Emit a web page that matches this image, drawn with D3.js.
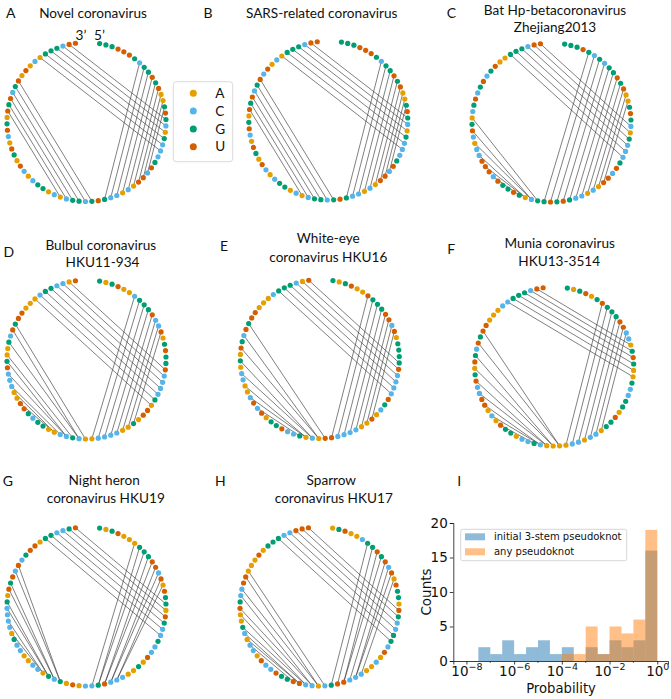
<!DOCTYPE html>
<html><head><meta charset="utf-8">
<script src="https://cdn.jsdelivr.net/npm/d3@7"></script>
<style>body{margin:0;background:#fff}svg{display:block}</style>
</head><body>
<svg id="chart" width="671" height="699"></svg>
<script>
// ---------------- data ----------------
const panelLetters = ["A","B","C","D","E","F","G","H"];
const panelTitles = [
  ["Novel coronavirus"],
  ["SARS-related coronavirus"],
  ["Bat Hp-betacoronavirus","Zhejiang2013"],
  ["Bulbul coronavirus","HKU11-934"],
  ["White-eye","coronavirus HKU16"],
  ["Munia coronavirus","HKU13-3514"],
  ["Night heron","coronavirus HKU19"],
  ["Sparrow","coronavirus HKU17"]
];
const sequences = [
  "GGGUUUGCGGUGUAAGUGCAGCCCGUCUUACACCGUGCGGCACAGGCACUAGUACUGAUGUCGUAUACAGGGCUU",
  "GGGUUUGCGGUGUAAGUGCAGCCCGUCUUACACCGUGCGGCACAGGCACUAGUACUGAUGUCGUCUACAGGGCUU",
  "GGGUGCGCGGUGUAAGUGCAGCCCGUCUUACACCGUGUGGCAGUGGUCUUUCCACUGACGUCGUCGUAAGGGCUU",
  "GAGUAACGGGUCCUAGUGGUCCCCGAUUAGAACCCCAACGCCAAGGCGUUAACCCUGAAGCUGUUAAACGGCCAU",
  "GAGUAAUGGGUUCUAGGGGUCCCCUGCAUAACCCCUUACAGCCUGGAUCUCAACCAGAUGCUGUUAAACGGGCAU",
  "GAGUAGUGGGUUCCAGUGAAGCCGGAUGGACCACCAAAACGCCAGGUACAUUCCUGAUGCUGUUAAACCGGGCUU",
  "GAGUAAAGGGUUCUAUGGAUGCCGCCUAGAACCCUGCCAUAGCGACCAACCGACCCCGAUGUCUCGUUAGGCCGU",
  "AGUAACGGUGUCUAUGGAUGCCGGCUACAACCCUUGCACCUUGGUCCUACCACGAAUGCCUUAAAUAGGGCCUUU"
];
// chords between paired nucleotides, [5' position, 3' position] (1-based)
const pairs = [
  [[8,35],[9,34],[10,33],[11,32],[12,31],[13,30],[14,29],[15,28],[16,27],
   [18,74],[19,73],[20,72],[21,71],[22,70],[23,69],
   [37,64],[38,63],[39,62],[40,61],[41,60],[42,59]],
  [[8,35],[9,34],[10,33],[11,32],[12,31],[13,30],[14,29],[15,28],[16,27],
   [18,74],[19,73],[20,72],[21,71],[22,70],[23,69],
   [37,64],[38,63],[39,62],[40,61],[41,60],[42,59]],
  [[5,39],[6,38],[7,37],[8,36],[9,35],[10,34],[11,33],[12,32],[13,31],[14,30],[15,29],
   [19,75],[20,74],[21,73],[22,72],[23,71],[24,70],
   [40,58],[41,56],[41,54],[42,52],[42,50],[43,48]],
  [[7,37],[8,36],[9,35],[10,34],[11,33],[12,32],[13,31],[14,30],
   [20,74],[21,73],[22,72],[23,71],[24,70],[25,69],[26,68],
   [38,63],[39,62],[39,60],[40,58],[41,57],[41,55],[42,53],[43,52],[43,50]],
  [[7,36],[8,35],[9,34],[10,33],[11,32],[12,31],[13,30],[14,29],
   [19,75],[20,74],[21,73],[22,72],[23,71],[24,70],
   [37,63],[38,61],[38,59],[39,57],[39,55],[40,53],[40,51],[41,49]],
  [[7,36],[8,35],[9,34],[10,33],[11,32],[12,31],[13,30],
   [15,74],[16,73],[17,72],[18,71],[19,70],[20,69],
   [37,63],[37,61],[38,59],[38,57],[39,55],[39,53],[40,51],[40,49],[41,47]],
  [[7,37],[8,36],[9,36],[10,35],[11,35],[12,34],[13,34],[14,33],[15,33],
   [18,75],[19,74],[20,73],[21,72],[22,71],[23,70],
   [42,64],[42,63],[43,61],[43,60],[44,58],[44,57],[45,55],[45,53]],
  [[7,36],[8,35],[9,34],[10,34],[11,33],[12,32],[13,32],[14,31],
   [19,75],[20,74],[21,73],[22,72],[23,71],[24,70],
   [37,63],[38,62],[38,60],[39,59],[39,57],[40,56],[40,54],[41,53],[41,52],[42,51]]
];
const nucleotides = ["A","C","G","U"];
const nucleotideColors = ["#E69F00","#56B4E9","#009E73","#D55E00"];

const binEdgeExponents = [-7.5,-7,-6.5,-6,-5.5,-5,-4.5,-4,-3.5,-3,-2.5,-2,-1.5,-1,-0.5,0];
const countsInitial3Stem = [2,1,3,1,2,3,1,2,0,2,1,3,2,3,16];
const countsAnyPseudoknot = [0,0,0,0,0,0,0,1,1,5,1,5,4,6,19];
const histSeries = ["initial 3-stem pseudoknot","any pseudoknot"];
const histColors = ["#1f77b4","#ff7f0e"];
const yTickValues = [0,5,10,15,20];
const xTickExponents = [-8,-6,-4,-2,0];

// ---------------- layout ----------------
const svg = d3.select("#chart");
const titleFont = "Lato, 'Open Sans', sans-serif";
const mplFont = "'DejaVu Sans', sans-serif";
const color = d3.scaleOrdinal().domain(nucleotides).range(nucleotideColors);

const panelCenters = [[86.5,122],[328.3,120.5],[551.5,122.5],[86.5,359.5],[319.8,359],[554.2,366.5],[86.5,606.5],[319.5,606.5]];
const radius = 79.5;
const letterPos = [[6,18.3],[203.5,18.3],[446.7,18.3],[3.5,257],[220,250.7],[447.3,254.3],[2.7,486],[215,486]];
const titlePos = [
  [[93,18.3]],
  [[321.7,18]],
  [[555,15.3],[555,31.5]],
  [[100.8,250],[102.5,267.3]],
  [[328.3,243.3],[328.3,261.7]],
  [[559.7,247.7],[559.2,265.7]],
  [[104.2,484.5],[105.8,502.5]],
  [[331.3,484.5],[333.8,502.5]]
];

panelLetters.forEach((L, p) => {
  svg.append("text").attr("x", letterPos[p][0]).attr("y", letterPos[p][1])
    .attr("font-family", titleFont).attr("font-size", 14).attr("fill", "#111").text(L);
  panelTitles[p].forEach((t, li) => {
    svg.append("text").attr("x", titlePos[p][li][0]).attr("y", titlePos[p][li][1])
      .attr("text-anchor", "middle").attr("font-family", titleFont).attr("font-size", 13.6)
      .attr("fill", "#111").text(t);
  });

  const seq = sequences[p].split("");
  const n = seq.length;
  const angle = d3.scaleLinear().domain([0, n - 1]).range([9.5, 352]);
  const nodes = seq.map((b, i) => {
    const a = angle(i) * Math.PI / 180;
    return {b, i, x: radius * Math.sin(a), y: -radius * Math.cos(a)};
  });
  const chords = pairs[p].filter(d => d[0] <= n && d[1] <= n);
  const g = svg.append("g").attr("transform", `translate(${panelCenters[p][0]},${panelCenters[p][1]})`);
  g.selectAll("line.chord").data(chords).join("line")
    .attr("class", "chord")
    .attr("x1", d => nodes[d[0] - 1].x).attr("y1", d => nodes[d[0] - 1].y)
    .attr("x2", d => nodes[d[1] - 1].x).attr("y2", d => nodes[d[1] - 1].y)
    .attr("stroke", "#3a3a3a").attr("stroke-width", 0.65);
  g.selectAll("circle.nt").data(nodes).join("circle")
    .attr("class", "nt").attr("cx", d => d.x).attr("cy", d => d.y).attr("r", 2.6)
    .attr("fill", d => color(d.b));
  if (p === 0) {
    svg.append("text").attr("x", 81).attr("y", 39.5).attr("text-anchor", "middle")
      .attr("font-family", titleFont).attr("font-size", 13.6).attr("fill", "#111").text("3\u2019");
    svg.append("text").attr("x", 99.5).attr("y", 39.5).attr("text-anchor", "middle")
      .attr("font-family", titleFont).attr("font-size", 13.6).attr("fill", "#111").text("5\u2019");
  }
});

// nucleotide legend
const leg = svg.append("g").attr("transform", "translate(173.3,81.7)");
leg.append("rect").attr("width", 59.4).attr("height", 80).attr("rx", 3)
  .attr("fill", "#fff").attr("stroke", "#d0d0d0").attr("stroke-width", 0.8);
nucleotides.forEach((b, i) => {
  const y = 11.6 + i * 17.8;
  leg.append("circle").attr("cx", 20).attr("cy", y).attr("r", 3.5).attr("fill", color(b));
  leg.append("text").attr("x", 42).attr("y", y + 4.8).attr("font-family", titleFont)
    .attr("font-size", 13.6).attr("fill", "#111").text(b);
});

// ---------------- histogram (panel I) ----------------
svg.append("text").attr("x", 457.3).attr("y", 486).attr("font-family", titleFont)
  .attr("font-size", 14).attr("fill", "#111").text("I");
const x = d3.scaleLog().domain([Math.pow(10, -8.55), Math.pow(10, 0.45)]).range([453.3, 668]);
const y = d3.scaleLinear().domain([0, 20]).range([661, 523]);
const hg = svg.append("g");
[countsInitial3Stem, countsAnyPseudoknot].forEach((counts, s) => {
  hg.append("g").selectAll("rect").data(counts.map((c, i) => ({c, i}))).join("rect")
    .attr("x", d => x(Math.pow(10, binEdgeExponents[d.i])))
    .attr("width", d => x(Math.pow(10, binEdgeExponents[d.i + 1])) - x(Math.pow(10, binEdgeExponents[d.i])))
    .attr("y", d => y(d.c)).attr("height", d => y(0) - y(d.c))
    .attr("fill", histColors[s]).attr("fill-opacity", 0.5);
});
const yAxis = d3.axisLeft(y).tickValues(yTickValues).tickSize(3.5).tickPadding(2);
const ya = svg.append("g").attr("transform", `translate(${x.range()[0]},0)`).call(yAxis);
ya.selectAll("text").attr("font-family", mplFont).attr("font-size", 13.5).attr("fill", "#111");
ya.select(".domain").attr("stroke", "#111").attr("stroke-width", 0.8);
ya.selectAll(".tick line").attr("stroke", "#111").attr("stroke-width", 0.8);

const xAxis = d3.axisBottom(x).tickValues(xTickExponents.map(e => Math.pow(10, e)))
  .tickSize(3.5).tickPadding(3).tickFormat(() => "");
const xa = svg.append("g").attr("transform", `translate(0,${y(0)})`).call(xAxis);
xa.select(".domain").attr("stroke", "#111").attr("stroke-width", 0.8);
xa.selectAll(".tick line").attr("stroke", "#111").attr("stroke-width", 0.8);
xa.selectAll(".tick text").each(function(d) {
  const t = d3.select(this).attr("font-family", mplFont).attr("fill", "#111").attr("dy", null).attr("y", 14.5);
  const e = Math.round(Math.log10(d));
  t.append("tspan").attr("font-size", 13.5).text("10");
  t.append("tspan").attr("font-size", 9.5).attr("dy", -6).text(e < 0 ? "\u2212" + (-e) : String(e));
});
xa.selectAll("line.minor").data([-7,-5,-3,-1]).join("line").attr("class","minor")
  .attr("x1", d => x(Math.pow(10, d))).attr("x2", d => x(Math.pow(10, d)))
  .attr("y1", 0).attr("y2", 2).attr("stroke", "#111").attr("stroke-width", 0.6);

svg.append("text").attr("x", 561).attr("y", 693).attr("text-anchor", "middle")
  .attr("font-family", mplFont).attr("font-size", 13.2).attr("fill", "#111").text("Probability");
svg.append("text").attr("transform", "translate(430.5,592) rotate(-90)").attr("text-anchor", "middle")
  .attr("font-family", mplFont).attr("font-size", 13.5).attr("fill", "#111").text("Counts");

const hl = svg.append("g").attr("transform", "translate(460.7,529.3)");
hl.append("rect").attr("width", 166).attr("height", 31.4).attr("rx", 2)
  .attr("fill", "#fff").attr("fill-opacity", 0.8).attr("stroke", "#ccc").attr("stroke-width", 0.8);
histSeries.forEach((name, i) => {
  hl.append("rect").attr("x", 4.3).attr("y", 4 + i * 15).attr("width", 20).attr("height", 7)
    .attr("fill", histColors[i]).attr("fill-opacity", 0.5);
  hl.append("text").attr("x", 33.3).attr("y", 10.5 + i * 15).attr("font-family", mplFont)
    .attr("font-size", 10).attr("fill", "#111").text(name);
});
</script>
</body></html>
